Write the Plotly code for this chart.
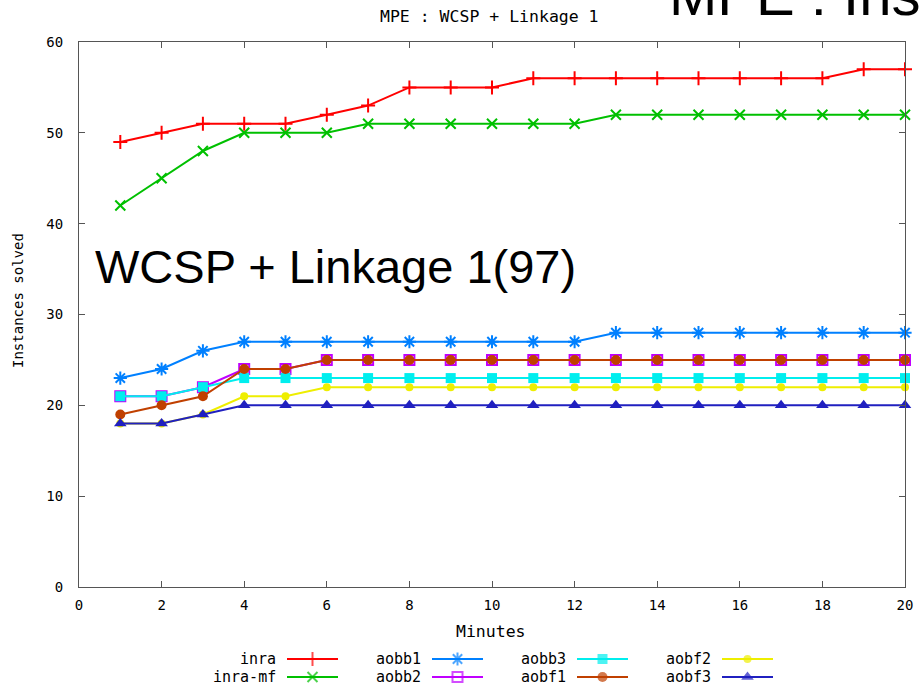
import plotly.graph_objects as go

# ---- data -------------------------------------------------------------
minutes = list(range(1, 21))

inra    = [49, 50, 51, 51, 51, 52, 53, 55, 55, 55, 56, 56, 56, 56, 56, 56, 56, 56, 57, 57]
inra_mf = [42, 45, 48, 50, 50, 50, 51, 51, 51, 51, 51, 51, 52, 52, 52, 52, 52, 52, 52, 52]
aobb1   = [23, 24, 26, 27, 27, 27, 27, 27, 27, 27, 27, 27, 28, 28, 28, 28, 28, 28, 28, 28]
aobb2   = [21, 21, 22, 24, 24, 25, 25, 25, 25, 25, 25, 25, 25, 25, 25, 25, 25, 25, 25, 25]
aobb3   = [21, 21, 22, 23, 23, 23, 23, 23, 23, 23, 23, 23, 23, 23, 23, 23, 23, 23, 23, 23]
aobf1   = [19, 20, 21, 24, 24, 25, 25, 25, 25, 25, 25, 25, 25, 25, 25, 25, 25, 25, 25, 25]
aobf2   = [18, 18, 19, 21, 21, 22, 22, 22, 22, 22, 22, 22, 22, 22, 22, 22, 22, 22, 22, 22]
aobf3   = [18, 18, 19, 20, 20, 20, 20, 20, 20, 20, 20, 20, 20, 20, 20, 20, 20, 20, 20, 20]

series_names = ["inra", "inra-mf", "aobb1", "aobb2", "aobb3", "aobf1", "aobf2", "aobf3"]
series_values = [inra, inra_mf, aobb1, aobb2, aobb3, aobf1, aobf2, aobf3]

x_ticks = list(range(0, 21, 2))
y_ticks = list(range(0, 61, 10))

# ---- styles (gnuplot default palette / point types) -------------------
styles = [
    dict(color="#ff0000", symbol="cross-thin", size=10, outline=True),
    dict(color="#00c000", symbol="x-thin", size=10, outline=True),
    dict(color="#0080ff", symbol="asterisk-open", size=11, outline=True),
    dict(color="#c000ff", symbol="square-open", size=10, outline=True),
    dict(color="#00eeee", symbol="square", size=10, outline=False),
    dict(color="#c04000", symbol="circle", size=10, outline=False),
    dict(color="#eeee00", symbol="circle", size=8, outline=False),
    dict(color="#2020c0", symbol="triangle-up", size=11, outline=False),
]

W, H = 922, 693
ML, MR, MT, MB = 79, 17, 42, 0
PW, PH = W - ML - MR, H - MT - MB
AXIS_BOTTOM = 587  # pixel row of the x axis


def px_x(px):
    return (px - ML) / PW


def px_y(py):
    return (H - MB - py) / PH


MONO = "DejaVu Sans Mono"
SANS = "Liberation Sans, Arial"


def label(text, px, py, size, family=MONO, xanchor="center", angle=0):
    fig.add_annotation(
        x=px_x(px), y=px_y(py), xref="paper", yref="paper",
        text=text, showarrow=False, xanchor=xanchor, yanchor="middle",
        textangle=angle, borderpad=0,
        font=dict(family=family, size=size, color="#000000"),
    )


fig = go.Figure()

for name, vals, st in zip(series_names, series_values, styles):
    mk = dict(symbol=st["symbol"], size=st["size"], color=st["color"])
    mk["line"] = dict(color=st["color"], width=2) if st["outline"] else dict(width=0)
    fig.add_trace(go.Scatter(
        x=minutes, y=vals, name=name, mode="lines+markers",
        line=dict(color=st["color"], width=2), marker=mk,
        showlegend=False, xaxis="x", yaxis="y", cliponaxis=False,
    ))

# ---- key below the plot: label on the left, sample on the right -------
COL0_LINE, COL_STEP, LINE_LEN = 287, 145, 51
ROWS = [659, 677]
for i, (name, st) in enumerate(zip(series_names, styles)):
    col, row = divmod(i, 2)
    x0 = COL0_LINE + COL_STEP * col
    x1 = x0 + LINE_LEN
    yrow = ROWS[row]
    mk = dict(symbol=st["symbol"], size=[0, st["size"], 0], color=st["color"])
    mk["line"] = dict(color=st["color"], width=2) if st["outline"] else dict(width=0)
    fig.add_trace(go.Scatter(
        x=[x0, (x0 + x1) / 2, x1], y=[yrow] * 3, mode="lines+markers",
        line=dict(color=st["color"], width=2), marker=mk,
        showlegend=False, xaxis="x2", yaxis="y2", hoverinfo="skip",
    ))
    label(name, x0 - 10, yrow, 15, xanchor="right")

axis_style = dict(
    showline=True, linecolor="#555555", linewidth=1, mirror="ticks",
    ticks="inside", ticklen=6, tickcolor="#555555", tickwidth=1,
    showgrid=False, zeroline=False, automargin=False,
    tickfont=dict(family=MONO, size=14, color="#000000"),
)

y_dom0 = (H - MB - AXIS_BOTTOM) / PH

fig.update_layout(
    template="none",
    width=W, height=H,
    margin=dict(l=ML, r=MR, t=MT, b=MB, pad=0),
    paper_bgcolor="white", plot_bgcolor="white",
    xaxis=dict(range=[0, 20], tickvals=x_ticks, ticklabelstandoff=5,
               domain=[0, 1], anchor="y", **axis_style),
    yaxis=dict(range=[0, 60], tickvals=y_ticks, ticklabelstandoff=12,
               domain=[y_dom0, 1], anchor="x", **axis_style),
    xaxis2=dict(range=[ML, W - MR], domain=[0, 1], anchor="y2", visible=False,
                automargin=False),
    yaxis2=dict(range=[H - MB, AXIS_BOTTOM], domain=[0, y_dom0], anchor="x2",
                visible=False, automargin=False),
)

# titles
label("MPE : WCSP + Linkage 1", 489, 17, 16.5)
label("Minutes", 491, 631, 16.5)
label("Instances solved", 18, 301, 14, angle=-90)

# large overlaid captions
label("WCSP + Linkage 1(97)", 94, 266, 47, family=SANS, xanchor="left")
label("MPE : Ins", 668, -5, 58, family=SANS, xanchor="left")

fig.write_html("out.html")
